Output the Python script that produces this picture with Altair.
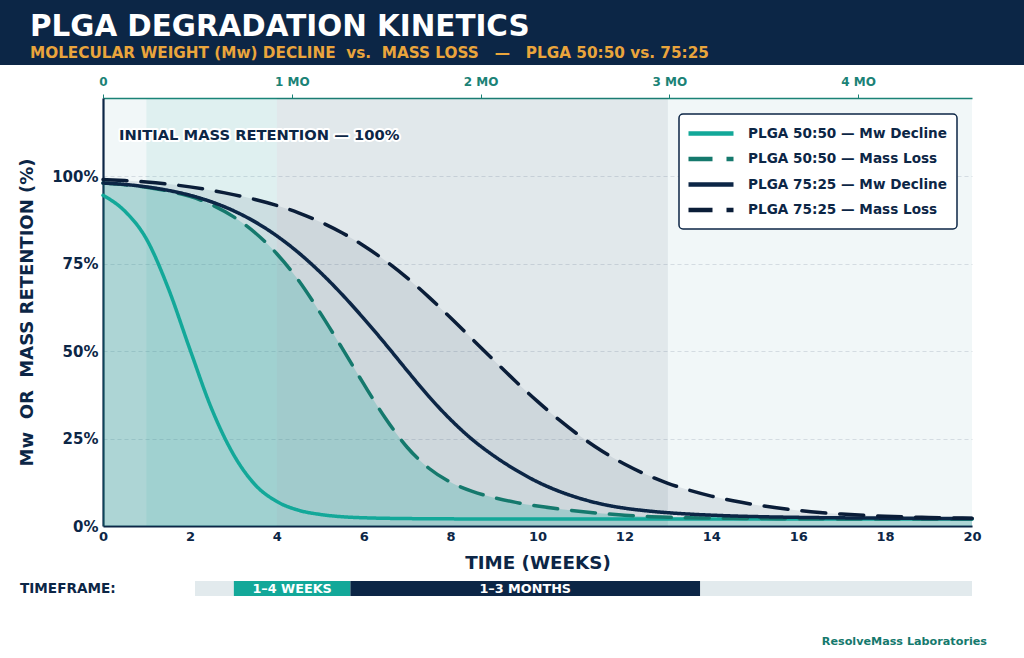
import json
import altair as alt
import pandas as pd

# ---------------- data ----------------
weeks = [0, 0.5, 1, 1.5, 2, 2.5, 3, 3.5, 4, 4.5, 5, 5.5, 6, 6.5, 7, 7.5, 8, 8.5, 9, 9.5,
         10, 10.5, 11, 11.5, 12, 12.5, 13, 13.5, 14, 14.5, 15, 15.5, 16, 16.5, 17, 17.5,
         18, 18.5, 19, 19.5, 20]

mw_5050 = [94.5, 90.0, 82.0, 68.0, 50.5, 33.5, 20.5, 11.8, 7.0, 4.5, 3.3, 2.65, 2.35, 2.2,
           2.12, 2.07, 2.04, 2.02, 2.01, 2.0, 2.0, 2.0, 2.0, 2.0, 2.0, 2.0, 2.0, 2.0, 2.0, 2.0,
           2.0, 2.0, 2.0, 2.0, 2.0, 2.0, 2.0, 2.0, 2.0, 2.0, 2.0]

mass_5050 = [98.0, 97.5, 96.8, 95.7, 94.2, 91.8, 88.4, 83.8, 77.8, 70.2, 60.9, 50.9, 40.6,
             30.8, 22.5, 16.5, 12.5, 9.9, 8.1, 6.75, 5.7, 4.85, 4.15, 3.55, 3.1, 2.72, 2.5,
             2.36, 2.26, 2.19, 2.14, 2.1, 2.07, 2.05, 2.03, 2.02, 2.01, 2.0, 2.0, 2.0, 2.0]

mw_7525 = [98.0, 97.6, 96.9, 95.9, 94.5, 92.6, 90.1, 86.9, 82.9, 78.1, 72.5, 66.2, 59.3,
           52.0, 44.4, 37.0, 30.4, 24.7, 20.0, 16.0, 12.6, 9.9, 7.8, 6.2, 5.1, 4.35, 3.8,
           3.4, 3.1, 2.87, 2.7, 2.57, 2.47, 2.39, 2.33, 2.28, 2.24, 2.2, 2.17, 2.15, 2.13]

mass_7525 = [99.0, 98.7, 98.3, 97.7, 96.9, 95.9, 94.7, 93.3, 91.6, 89.5, 86.9, 83.8, 80.1,
             75.8, 70.9, 65.4, 59.5, 53.4, 47.3, 41.3, 35.6, 30.3, 25.5, 21.3, 17.7, 14.7,
             12.2, 10.2, 8.55, 7.2, 6.1, 5.2, 4.45, 3.85, 3.4, 3.05, 2.78, 2.58, 2.43, 2.31, 2.21]

series_names = [
    "PLGA 50:50 \u2014 Mw Decline",
    "PLGA 50:50 \u2014 Mass Loss",
    "PLGA 75:25 \u2014 Mw Decline",
    "PLGA 75:25 \u2014 Mass Loss",
]

x_ticks = [0, 2, 4, 6, 8, 10, 12, 14, 16, 18, 20]
y_ticks = [0, 25, 50, 75, 100]

month_numbers = [0, 1, 2, 3, 4]
month_labels = ["0", "1 MO", "2 MO", "3 MO", "4 MO"]
WEEKS_PER_MONTH = 4.345

# shaded phases behind the curves (weeks)
band_start = [1, 4]
band_end = [4, 13]

# timeframe strip (weeks)
tf_start = [0, 1, 4, 13]
tf_end = [1, 4, 13, 20]
tf_labels = ["", "1\u20134 WEEKS", "1\u20133 MONTHS", ""]

# ---------------- style ----------------
FONT = "DejaVu Sans"
NAVY = "#0c2646"
NAVY_DARK = "#0a1d38"
TEAL = "#13a899"
TEAL_DARK = "#15796d"
TEAL_AXIS = "#1b8276"
ORANGE = "#eaa53c"
PLOT_BG = "#f1f7f8"
STRIP_BG = "#e2eaed"

W, H = 869, 428
PAD = {"left": 103, "top": 98, "right": 52, "bottom": 132}

rows = []
for name, vals in zip(series_names, [mw_5050, mass_5050, mw_7525, mass_7525]):
    for t, v in zip(weeks, vals):
        rows.append({"week": t, "value": v, "series": name})
curves = pd.DataFrame(rows)

bands = pd.DataFrame({"idx": [0, 1], "start": band_start, "end": band_end})
strip = pd.DataFrame({"idx": [0, 1, 2, 3], "start": tf_start, "end": tf_end, "label": tf_labels})
months = pd.DataFrame({"month": month_numbers, "label": month_labels})
one = pd.DataFrame({"k": [0]})

xs = alt.Scale(domain=[0, 20], nice=False, zero=False)
ys = alt.Scale(domain=[0, 122.3], nice=False)

bottom_axis = alt.Axis(
    values=x_ticks, title="TIME (WEEKS)", grid=False, ticks=False, tickSize=0,
    domainColor=NAVY, domainWidth=2.2, labelColor=NAVY, labelFontSize=13,
    labelFontWeight="bold", labelPadding=4, titleColor=NAVY, titleFontSize=18.3,
    titleFontWeight="bold", titlePadding=11, labelFlush=False,
)
left_axis = alt.Axis(
    values=y_ticks, labelExpr="datum.value + '%'",
    title="Mw\u00a0 OR\u00a0 MASS RETENTION (%)", ticks=False, tickSize=0,
    domainColor=NAVY, domainWidth=2.2, labelColor=NAVY, labelFontSize=15,
    labelFontWeight="bold", labelPadding=5, titleColor=NAVY, titleFontSize=18,
    titleFontWeight="bold", titlePadding=15, grid=True, gridDash=[4, 3],
    gridColor="#c3cdd4", gridWidth=0.8, gridOpacity=0.8,
)
top_axis = alt.Axis(
    orient="top", values=[m * WEEKS_PER_MONTH for m in month_numbers],
    labelExpr=f"{json.dumps(month_labels)}[round(datum.value / {WEEKS_PER_MONTH})]",
    title=None, grid=False, domainColor=TEAL_AXIS, domainWidth=1.6,
    tickColor=TEAL_AXIS, tickSize=4, tickWidth=1, labelColor=TEAL_AXIS,
    labelFontSize=12, labelFontWeight="bold", labelPadding=6, labelFlush=False,
)

# legend: a wide horizontal stroke drawn as a custom symbol path
legend = alt.Legend(
    title=None, orient="none", legendX=576, legendY=16,
    symbolType="M-3,0H3", symbolSize=225, symbolStrokeWidth=4.5, symbolOffset=12.5,
    labelFont=FONT, labelFontSize=13.6, labelFontWeight="bold", labelColor=NAVY,
    labelOffset=27, labelLimit=400, fillColor="white", strokeColor=NAVY,
    padding=9.5, cornerRadius=4, rowPadding=6.5,
)

# ---------------- plot area ----------------
def band(idx, color, opacity):
    return alt.Chart(bands).transform_filter(alt.datum.idx == idx).mark_rect(
        color=color, opacity=opacity
    ).encode(x=alt.X("start:Q", scale=xs, axis=None), x2="end:Q")

def fill(name, color, opacity):
    return alt.Chart(curves).transform_filter(alt.datum.series == name).mark_area(
        color=color, opacity=opacity, interpolate="monotone"
    ).encode(
        x=alt.X("week:Q", scale=xs, axis=None),
        y=alt.Y("value:Q", scale=ys, axis=None),
    )

lines = alt.Chart(curves).mark_line(
    strokeWidth=3.5, interpolate="monotone", strokeCap="round"
).encode(
    x=alt.X("week:Q", scale=xs, axis=bottom_axis),
    y=alt.Y("value:Q", scale=ys, axis=left_axis),
    color=alt.Color("series:N", scale=alt.Scale(
        domain=series_names, range=[TEAL, TEAL_DARK, NAVY, NAVY_DARK]), legend=legend),
    strokeDash=alt.StrokeDash("series:N", scale=alt.Scale(
        domain=series_names, range=[[1, 0], [24, 14], [1, 0], [24, 14]]), legend=legend),
)

month_axis = alt.Chart(months).transform_calculate(
    wk=f"datum.month * {WEEKS_PER_MONTH}"
).mark_point(opacity=0).encode(
    x=alt.X("wk:Q", scale=xs, axis=top_axis), y=alt.value(0)
)

NOTE = "INITIAL MASS RETENTION \u2014 100%"
note_halo = alt.Chart(one).mark_text(
    align="left", baseline="middle", font=FONT, fontSize=14.7, fontWeight="bold",
    stroke="white", strokeWidth=4, strokeJoin="round", color="white",
).encode(x=alt.value(16), y=alt.value(38), text=alt.value(NOTE))
note = alt.Chart(one).mark_text(
    align="left", baseline="middle", font=FONT, fontSize=14.7, fontWeight="bold", color=NAVY,
).encode(x=alt.value(16), y=alt.value(38), text=alt.value(NOTE))

plot = alt.layer(
    band(0, TEAL, 0.08),
    band(1, NAVY, 0.07),
    fill(series_names[3], NAVY, 0.085),
    fill(series_names[1], TEAL, 0.24),
    lines,
    month_axis,
    note_halo,
    note,
).resolve_axis(x="independent", y="independent")

# ---------------- timeframe strip ----------------
ts = alt.Scale(domain=[0, 20], range=[92, 869], nice=False, zero=False)

def strip_seg(idx, color):
    return alt.Chart(strip).transform_filter(alt.datum.idx == idx).mark_rect(color=color).encode(
        x=alt.X("start:Q", scale=ts, axis=None), x2="end:Q",
        y=alt.value(483), y2=alt.value(498),
    )

strip_text = alt.Chart(strip).transform_filter("datum.label != ''").transform_calculate(
    mid="(datum.start + datum.end) / 2"
).mark_text(color="white", font=FONT, fontSize=12.8, fontWeight="bold", baseline="middle").encode(
    x=alt.X("mid:Q", scale=ts, axis=None), y=alt.value(490.5), text="label:N"
)

timeframe = alt.layer(
    strip_seg(0, STRIP_BG), strip_seg(3, STRIP_BG),
    strip_seg(1, TEAL), strip_seg(2, NAVY), strip_text,
)

# ---------------- header / footer text ----------------
def label(text, x, y, size, color, align="left"):
    return alt.Chart(one).mark_text(
        align=align, baseline="alphabetic", font=FONT, fontSize=size,
        fontWeight="bold", color=color,
    ).encode(x=alt.value(x), y=alt.value(y), text=alt.value(text))

header = alt.Chart(one).mark_rect(color=NAVY).encode(
    x=alt.value(-PAD["left"]), x2=alt.value(W + PAD["right"]),
    y=alt.value(-PAD["top"]), y2=alt.value(-33),
)

chart = alt.layer(
    header,
    label("PLGA DEGRADATION KINETICS", -73, -62, 29.4, "white"),
    label("MOLECULAR WEIGHT (Mw) DECLINE\u00a0 vs.\u00a0 MASS LOSS \u00a0 \u2014 \u00a0 PLGA 50:50 vs. 75:25",
          -73, -40, 15.25, ORANGE),
    plot,
    timeframe,
    label("TIMEFRAME:", -83, 495, 13.6, NAVY),
    label("ResolveMass Laboratories", 884, 547, 11.2, TEAL_DARK, align="right"),
).resolve_scale(x="independent").properties(
    width=W, height=H, padding=PAD, autosize=alt.AutoSizeParams(type="none"),
).configure(
    font=FONT, background="white",
).configure_view(
    fill=PLOT_BG, stroke=None,
).configure_legend(
    strokeWidth=1.5,
)

chart.save("out.html", embed_options={"renderer": "svg", "actions": False})
